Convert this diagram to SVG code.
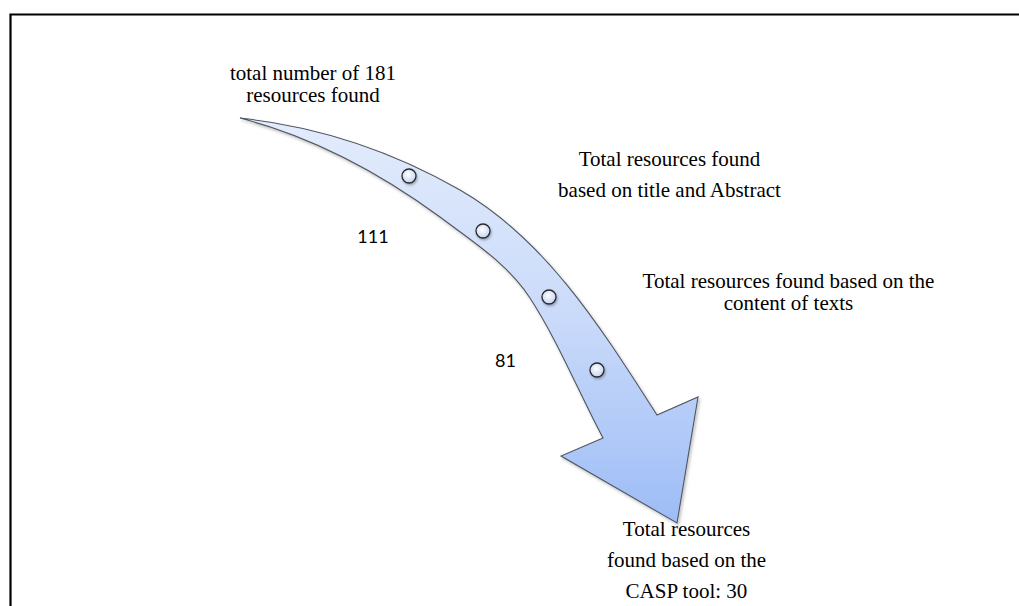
<svg xmlns="http://www.w3.org/2000/svg" width="1019" height="606" viewBox="0 0 1019 606">
  <defs>
    <style>
      .lbl { font-family: "Liberation Serif", "Times New Roman", serif; font-size: 21px; fill: #000; text-anchor: middle; }
      .num { font-family: Lato, "Liberation Sans", sans-serif; font-size: 18px; fill: #000; text-anchor: middle; }
      .dot { fill: url(#dotFill); stroke: #2b2b2b; stroke-width: 1.3; filter: url(#dotShadow); }
    </style>
    <linearGradient id="arrowFill" x1="0" y1="118" x2="0" y2="523" gradientUnits="userSpaceOnUse">
      <stop offset="0" stop-color="#e3ecfc"/>
      <stop offset="0.5" stop-color="#c9dafa"/>
      <stop offset="1" stop-color="#9dbcf6"/>
    </linearGradient>
    <radialGradient id="dotFill" cx="0.45" cy="0.4" r="0.6">
      <stop offset="0" stop-color="#ffffff"/>
      <stop offset="1" stop-color="#c3d4f2"/>
    </radialGradient>
    <filter id="arrowShadow" x="-10%" y="-10%" width="130%" height="130%">
      <feDropShadow dx="1.5" dy="2" stdDeviation="1.5" flood-color="#000" flood-opacity="0.25"/>
    </filter>
    <filter id="dotShadow" x="-50%" y="-50%" width="200%" height="200%">
      <feDropShadow dx="1" dy="1.5" stdDeviation="1" flood-color="#000" flood-opacity="0.3"/>
    </filter>
  </defs>

  <rect width="1019" height="606" fill="#ffffff"/>

  <g id="frame">
    <path d="M10.5,606 V14.5 H1019" fill="none" stroke="#000" stroke-width="2.2"/>
  </g>

  <g id="connectors">
    <path id="flow-arrow" d="M240,118 C313,126 387,148 460,190 C547,240 603,331 657,415 L698,397 L677,523 L561,456 L603,438 C578,391 559,343 530,298 C508,264 472,241 440,217 C380,173 313,137 240,118 Z" fill="url(#arrowFill)" stroke="#4f5660" stroke-width="1.1" stroke-linejoin="miter" filter="url(#arrowShadow)"/>
  </g>

  <g id="stage-dots">
    <circle class="dot" cx="409" cy="176" r="7"/>
    <circle class="dot" cx="483" cy="231" r="7"/>
    <circle class="dot" cx="549" cy="297" r="7"/>
    <circle class="dot" cx="597" cy="370" r="7"/>
  </g>

  <g id="node-total">
    <text class="lbl" x="313" y="80">total number of 181</text>
    <text class="lbl" x="313" y="102">resources found</text>
  </g>

  <g id="node-title-abstract">
    <text class="lbl" x="669.5" y="166">Total resources found</text>
    <text class="lbl" x="669.5" y="197">based on title and Abstract</text>
  </g>

  <g id="node-content">
    <text class="lbl" x="788.5" y="288">Total resources found based on the</text>
    <text class="lbl" x="788.5" y="310">content of texts</text>
  </g>

  <g id="node-casp">
    <text class="lbl" x="686.5" y="536">Total resources</text>
    <text class="lbl" x="686.5" y="567">found based on the</text>
    <text class="lbl" x="686.5" y="598">CASP tool: 30</text>
  </g>

  <g id="count-111">
    <text class="num" x="373" y="243">111</text>
  </g>

  <g id="count-81">
    <text class="num" x="505.5" y="367">81</text>
  </g>
</svg>
